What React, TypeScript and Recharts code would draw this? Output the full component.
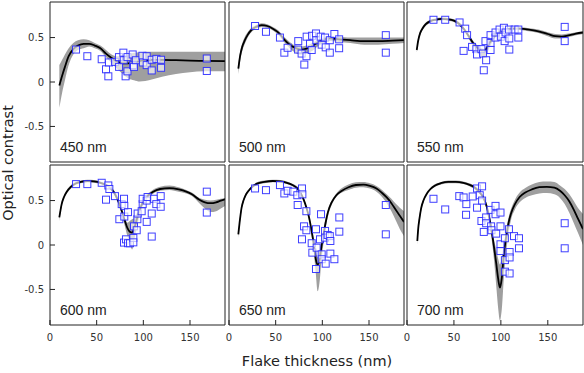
import React from "react";
import { ComposedChart, Area, Line, Scatter, XAxis, YAxis } from "recharts";

const xTicks = [0, 50, 100, 150];
const yTicks = [-0.5, 0, 0.5];
const xDomain = [0, 187.5];
const yDomain = [-0.9, 0.9];

// theory curve: [thickness, fit, lower, upper]
const curve450 = [
  [10, -0.04, -0.29, 0.19], [13, 0.07, -0.12, 0.25], [16, 0.17, 0.02, 0.31], [20, 0.29, 0.19, 0.38],
  [25, 0.37, 0.31, 0.44], [30, 0.41, 0.36, 0.47], [36, 0.43, 0.38, 0.48], [42, 0.43, 0.4, 0.47],
  [48, 0.41, 0.38, 0.44], [54, 0.38, 0.35, 0.41], [60, 0.32, 0.28, 0.36], [66, 0.27, 0.21, 0.31],
  [72, 0.23, 0.15, 0.29], [78, 0.21, 0.09, 0.29], [84, 0.21, 0.04, 0.31], [90, 0.22, 0.02, 0.33],
  [96, 0.235, 0.005, 0.335], [102, 0.245, 0.01, 0.34], [110, 0.25, 0.03, 0.34], [120, 0.25, 0.06, 0.34],
  [135, 0.245, 0.09, 0.34], [150, 0.24, 0.11, 0.34], [165, 0.237, 0.12, 0.34], [187.5, 0.235, 0.12, 0.34],
];
const curve500 = [
  [10, 0.15, 0.09, 0.2], [12, 0.3, 0.24, 0.35], [14, 0.39, 0.34, 0.43], [17, 0.47, 0.43, 0.51],
  [20, 0.53, 0.5, 0.56], [24, 0.585, 0.56, 0.61], [29, 0.62, 0.6, 0.64], [35, 0.64, 0.62, 0.66],
  [41, 0.63, 0.61, 0.65], [47, 0.6, 0.58, 0.62], [53, 0.555, 0.53, 0.58], [59, 0.48, 0.45, 0.51],
  [65, 0.42, 0.38, 0.45], [71, 0.385, 0.33, 0.41], [77, 0.365, 0.31, 0.4], [83, 0.375, 0.32, 0.41],
  [89, 0.405, 0.35, 0.44], [95, 0.445, 0.4, 0.47], [101, 0.475, 0.44, 0.5], [108, 0.49, 0.46, 0.51],
  [118, 0.48, 0.45, 0.51], [130, 0.47, 0.44, 0.5], [145, 0.46, 0.42, 0.5], [160, 0.46, 0.42, 0.5],
  [175, 0.465, 0.43, 0.5], [187.5, 0.47, 0.44, 0.5],
];
const curve550 = [
  [10.4, 0.36, 0.33, 0.38], [12, 0.47, 0.45, 0.49], [14, 0.55, 0.53, 0.57], [17, 0.61, 0.59, 0.63],
  [20, 0.65, 0.63, 0.67], [25, 0.685, 0.67, 0.7], [30, 0.7, 0.685, 0.715], [37, 0.71, 0.695, 0.725],
  [44, 0.705, 0.69, 0.72], [50, 0.69, 0.675, 0.705], [56, 0.65, 0.63, 0.67], [61, 0.59, 0.57, 0.61],
  [65, 0.53, 0.5, 0.55], [70, 0.445, 0.41, 0.47], [75, 0.385, 0.33, 0.41], [79, 0.35, 0.29, 0.38],
  [82, 0.34, 0.27, 0.37], [85, 0.38, 0.31, 0.41], [88, 0.44, 0.39, 0.46], [92, 0.5, 0.47, 0.52],
  [97, 0.55, 0.53, 0.57], [104, 0.585, 0.57, 0.6], [112, 0.6, 0.585, 0.615], [120, 0.6, 0.585, 0.615],
  [130, 0.59, 0.57, 0.605], [140, 0.57, 0.55, 0.59], [150, 0.54, 0.515, 0.56], [158, 0.515, 0.49, 0.54],
  [165, 0.51, 0.49, 0.535], [172, 0.525, 0.505, 0.545], [180, 0.545, 0.525, 0.56], [187.5, 0.557, 0.54, 0.57],
];
const curve600 = [
  [10, 0.31, 0.27, 0.34], [12.5, 0.46, 0.43, 0.48], [15, 0.54, 0.52, 0.56], [18, 0.6, 0.58, 0.62],
  [22, 0.65, 0.63, 0.67], [27, 0.69, 0.675, 0.705], [33, 0.71, 0.695, 0.725], [40, 0.72, 0.705, 0.735],
  [47, 0.715, 0.7, 0.73], [54, 0.7, 0.685, 0.715], [60, 0.675, 0.66, 0.69], [65, 0.64, 0.62, 0.66],
  [70, 0.565, 0.54, 0.59], [74, 0.47, 0.44, 0.5], [77, 0.38, 0.34, 0.41], [80, 0.28, 0.22, 0.31],
  [83, 0.19, 0.1, 0.25], [85.5, 0.15, 0.02, 0.27], [88, 0.14, -0.05, 0.29], [90, 0.18, 0.04, 0.3],
  [92, 0.25, 0.15, 0.33], [95, 0.36, 0.29, 0.41], [99, 0.47, 0.43, 0.5], [104, 0.545, 0.52, 0.57],
  [110, 0.595, 0.575, 0.62], [118, 0.63, 0.61, 0.655], [128, 0.64, 0.62, 0.67], [138, 0.625, 0.6, 0.65],
  [146, 0.6, 0.58, 0.62], [152, 0.57, 0.55, 0.59], [160, 0.51, 0.47, 0.53], [166, 0.48, 0.41, 0.51],
  [172, 0.47, 0.37, 0.5], [178, 0.48, 0.38, 0.51], [183, 0.5, 0.41, 0.52], [187.5, 0.515, 0.44, 0.53],
];
const curve650 = [
  [10, 0.12, 0.08, 0.15], [11.8, 0.29, 0.26, 0.32], [13.5, 0.42, 0.39, 0.45], [15.5, 0.5, 0.48, 0.52],
  [18, 0.565, 0.545, 0.585], [21, 0.61, 0.595, 0.625], [25, 0.655, 0.64, 0.67], [30, 0.69, 0.675, 0.705],
  [38, 0.71, 0.695, 0.725], [47, 0.72, 0.705, 0.735], [55, 0.715, 0.7, 0.73], [62, 0.7, 0.685, 0.715],
  [68, 0.675, 0.66, 0.69], [73, 0.64, 0.62, 0.66], [77, 0.58, 0.56, 0.6], [80, 0.51, 0.49, 0.53],
  [83, 0.42, 0.39, 0.44], [86, 0.3, 0.26, 0.33], [88.5, 0.16, 0.1, 0.2], [91, 0.0, -0.1, 0.06],
  [93, -0.16, -0.32, -0.06], [95, -0.22, -0.52, -0.14], [97, -0.16, -0.42, -0.06], [99, -0.02, -0.18, 0.06],
  [101, 0.1, 0.0, 0.16], [103.5, 0.25, 0.18, 0.3], [106, 0.37, 0.32, 0.4], [110, 0.48, 0.45, 0.5],
  [115, 0.56, 0.54, 0.58], [121, 0.61, 0.59, 0.64], [128, 0.65, 0.62, 0.68], [136, 0.675, 0.645, 0.705],
  [144, 0.68, 0.65, 0.71], [151, 0.665, 0.635, 0.695], [158, 0.635, 0.6, 0.665], [164, 0.585, 0.54, 0.62],
  [169, 0.535, 0.47, 0.57], [174, 0.47, 0.38, 0.52], [179, 0.39, 0.27, 0.46], [183, 0.33, 0.18, 0.42],
  [187.5, 0.26, 0.1, 0.38],
];
const curve700 = [
  [11, 0.045, 0.0, 0.08], [12, 0.19, 0.14, 0.23], [13.2, 0.29, 0.25, 0.33], [15, 0.41, 0.38, 0.44],
  [17.5, 0.5, 0.48, 0.52], [21, 0.575, 0.555, 0.595], [25, 0.63, 0.615, 0.645], [30, 0.67, 0.655, 0.685],
  [36, 0.695, 0.68, 0.71], [44, 0.71, 0.695, 0.725], [52, 0.71, 0.695, 0.725], [60, 0.7, 0.685, 0.715],
  [66, 0.68, 0.665, 0.695], [71, 0.655, 0.635, 0.675], [75, 0.62, 0.6, 0.64], [79, 0.57, 0.55, 0.59],
  [82, 0.52, 0.49, 0.54], [85, 0.43, 0.39, 0.46], [88, 0.29, 0.22, 0.33], [90.5, 0.14, 0.04, 0.2],
  [92.5, -0.01, -0.15, 0.07], [95, -0.2, -0.45, -0.05], [97, -0.37, -0.7, -0.15], [99, -0.48, -0.85, -0.22],
  [101, -0.37, -0.72, -0.14], [103, -0.12, -0.4, 0.0], [105.5, 0.08, -0.1, 0.16], [108, 0.24, 0.12, 0.3],
  [111, 0.36, 0.29, 0.41], [115, 0.46, 0.4, 0.51], [120, 0.54, 0.48, 0.59], [126, 0.59, 0.53, 0.64],
  [133, 0.625, 0.56, 0.68], [141, 0.65, 0.58, 0.71], [149, 0.655, 0.585, 0.715], [157, 0.645, 0.57, 0.71],
  [163, 0.61, 0.53, 0.67], [168, 0.56, 0.46, 0.63], [173, 0.49, 0.36, 0.57], [178, 0.39, 0.24, 0.49],
  [182, 0.3, 0.14, 0.42], [187.5, 0.18, 0.0, 0.35],
];

// measured flakes: [thickness, contrast]
const points450 = [
  [27.9, 0.365], [40, 0.29], [55.4, 0.256], [60, 0.143], [62.5, 0.064], [63.2, 0.22], [69.6, 0.226],
  [73.9, 0.28], [74, 0.17], [78.6, 0.33], [79, 0.245], [81, 0.064], [83, 0.12], [83, 0.28], [88.6, 0.31],
  [89, 0.19], [90, 0.17], [92, 0.245], [99, 0.295], [99.6, 0.22], [103.6, 0.29], [103.6, 0.19],
  [109, 0.13], [109, 0.25], [114, 0.26], [119, 0.25], [119, 0.16], [168, 0.264], [168, 0.124],
];
const points500 = [
  [27.9, 0.63], [39.6, 0.565], [54.6, 0.5], [59.3, 0.33], [62.8, 0.385], [74.2, 0.46], [74, 0.365],
  [77.8, 0.32], [80.7, 0.196], [83.2, 0.51], [83, 0.29], [86.8, 0.43], [88.6, 0.36], [89, 0.52],
  [93.2, 0.546], [93.5, 0.47], [98.2, 0.51], [99.3, 0.42], [102.9, 0.5], [103.6, 0.39], [108, 0.47],
  [108, 0.33], [112.9, 0.54], [118, 0.48], [118, 0.38], [168, 0.527], [168, 0.33],
];
const points550 = [
  [28.2, 0.7], [40.7, 0.7], [56, 0.67], [62, 0.6], [64, 0.527], [60.3, 0.35], [69.3, 0.395], [73.9, 0.37],
  [74.6, 0.31], [79.3, 0.37], [81, 0.32], [81.8, 0.132], [84.3, 0.245], [83.6, 0.46], [89, 0.36],
  [89, 0.44], [89, 0.527], [94.3, 0.5], [94.3, 0.557], [98.6, 0.59], [100, 0.51], [103.2, 0.61],
  [104, 0.46], [105, 0.557], [108.6, 0.59], [109, 0.365], [109, 0.49], [114.7, 0.59], [118.6, 0.59],
  [118.6, 0.5], [168, 0.62], [168, 0.46],
];
const points600 = [
  [27.9, 0.685], [40, 0.685], [55.4, 0.7], [60, 0.51], [62.5, 0.67], [63.6, 0.63], [69.6, 0.55],
  [74.3, 0.29], [76.8, 0.46], [79.3, 0.52], [79.6, 0.44], [79.6, 0.32], [79.3, 0.027], [81.4, 0.064],
  [83.6, 0.37], [83.6, 0.02], [85.7, 0.02], [89.3, 0.08], [89.3, 0.03], [90, 0.21], [92.9, 0.166],
  [93.6, 0.29], [93.9, 0.354], [98.2, 0.38], [99.3, 0.46], [99.3, 0.52], [103.6, 0.26], [103.6, 0.5],
  [104.6, 0.54], [109, 0.354], [109, 0.095], [111.4, 0.52], [113.9, 0.46], [118.6, 0.55], [118.6, 0.43],
  [168, 0.6], [168, 0.365],
];
const points650 = [
  [27.9, 0.636], [39.6, 0.617], [54.6, 0.674], [59.3, 0.58], [62.9, 0.61], [68.9, 0.6], [73.2, 0.56],
  [73.6, 0.45], [78.2, 0.636], [78.6, 0.57], [82.9, 0.38], [80.4, 0.21], [82.9, 0.166], [78.2, 0.064],
  [88.6, 0.02], [89.3, -0.086], [93.2, 0.177], [93.9, -0.03], [93.2, -0.27], [97.5, 0.064], [98.6, 0.346],
  [99.3, -0.105], [99.3, -0.16], [102.9, 0.158], [102.9, 0.083], [103.6, -0.21], [105.7, 0.113],
  [108, 0.1], [108.6, 0.045], [108.6, -0.097], [112.9, -0.16], [118.2, 0.31], [118.2, 0.15],
  [168, 0.45], [168, 0.12],
];
const points700 = [
  [28.2, 0.52], [40.7, 0.4], [55.7, 0.55], [60.3, 0.535], [63.2, 0.46], [62.9, 0.34], [70, 0.546],
  [74.6, 0.42], [74.6, 0.636], [77.5, 0.56], [80, 0.66], [80, 0.5], [79.3, 0.27], [81.8, 0.147],
  [84.3, 0.31], [84.3, 0.245], [89, 0.395], [89.6, 0.21], [90, 0.166], [94.3, 0.44], [94.3, 0.346],
  [95, 0.128], [99.6, 0.365], [99.6, 0.21], [99.6, 0.008], [99.6, -0.068], [104.3, 0.076], [104.3, -0.17],
  [104.3, -0.3], [108.6, 0.177], [109.3, -0.079], [109.3, -0.14], [109.3, -0.32], [114, 0.1],
  [119.3, 0.076], [119.3, -0.037], [168, 0.245], [168, -0.037],
];

const INK = "#222";
const PLOT_H = 160;

const Square = (p: any) => (
  <rect
    x={p.cx - 3.5}
    y={p.cy - 3.5}
    width={7}
    height={7}
    fill="#fff"
    fillOpacity={0.65}
    stroke="#2a2aff"
    strokeOpacity={0.9}
    strokeWidth={1}
  />
);

interface PanelProps {
  left: number;
  top: number;
  width: number;
  curve: number[][];
  points: number[][];
  showX: boolean;
  showY: boolean;
}

function Panel({ left, top, width, curve, points, showX, showY }: PanelProps) {
  const lineData = curve.map(([x, fit, lo, hi]) => ({ x, fit, band: [lo, hi] }));
  const dots = points.map(([x, y]) => ({ x, y }));
  const tickStyle = { fontSize: 10, fill: "#333" };
  const common = {
    type: "number" as const,
    allowDataOverflow: true,
    tickSize: -5,
    axisLine: { stroke: INK },
    tickLine: { stroke: INK },
  };

  return (
    <div style={{ position: "absolute", left: left - 50, top: top - 5 }}>
      <ComposedChart
        width={width + 55}
        height={PLOT_H + 40}
        margin={{ top: 4, right: 4, bottom: 34, left: 49 }}
      >
        <XAxis
          {...common}
          xAxisId="b"
          dataKey="x"
          domain={xDomain}
          ticks={xTicks}
          height={1}
          tickMargin={14}
          tick={showX ? tickStyle : false}
        />
        <XAxis {...common} xAxisId="t" orientation="top" domain={xDomain} ticks={xTicks} height={1} tick={false} />
        <YAxis
          {...common}
          yAxisId="l"
          domain={yDomain}
          ticks={yTicks}
          width={1}
          tickMargin={11}
          tick={showY ? tickStyle : false}
        />
        <YAxis {...common} yAxisId="r" orientation="right" domain={yDomain} ticks={yTicks} width={1} tick={false} />
        <Area
          xAxisId="b"
          yAxisId="l"
          data={lineData}
          dataKey="band"
          type="monotone"
          stroke="none"
          fill="#9f9f9f"
          fillOpacity={1}
          isAnimationActive={false}
        />
        <Line
          xAxisId="b"
          yAxisId="l"
          data={lineData}
          dataKey="fit"
          type="monotone"
          stroke="#000"
          strokeWidth={1.8}
          dot={false}
          isAnimationActive={false}
        />
        <Scatter
          xAxisId="b"
          yAxisId="l"
          data={dots}
          dataKey="y"
          shape={Square}
          isAnimationActive={false}
        />
      </ComposedChart>
    </div>
  );
}

const panels = [
  { label: "450 nm", left: 50, top: 2, width: 175, curve: curve450, points: points450 },
  { label: "500 nm", left: 229, top: 2, width: 175, curve: curve500, points: points500 },
  { label: "550 nm", left: 407, top: 2, width: 176, curve: curve550, points: points550 },
  { label: "600 nm", left: 50, top: 165, width: 175, curve: curve600, points: points600 },
  { label: "650 nm", left: 229, top: 165, width: 175, curve: curve650, points: points650 },
  { label: "700 nm", left: 407, top: 165, width: 176, curve: curve700, points: points700 },
];

export default function App() {
  return (
    <div
      style={{
        position: "absolute",
        left: 0,
        top: 0,
        width: 584,
        height: 373,
        background: "#fff",
        fontFamily: "'DejaVu Sans', sans-serif",
      }}
    >
      {panels.map((p, i) => (
        <Panel
          key={p.label}
          left={p.left}
          top={p.top}
          width={p.width}
          curve={p.curve}
          points={p.points}
          showX={i >= 3}
          showY={i % 3 === 0}
        />
      ))}
      <svg
        width={584}
        height={373}
        style={{ position: "absolute", left: 0, top: 0, pointerEvents: "none" }}
      >
        <text
          transform="translate(13,163) rotate(-90)"
          textAnchor="middle"
          fontSize={14.5}
          fill={INK}
          fontFamily="'DejaVu Sans', sans-serif"
        >
          Optical contrast
        </text>
        <text x={317} y={366} textAnchor="middle" fontSize={14.5} fill={INK} fontFamily="'DejaVu Sans', sans-serif">
          Flake thickness (nm)
        </text>
        {panels.map((p) => (
          <text
            key={p.label}
            x={p.left + 10}
            y={p.top + PLOT_H - 10}
            fontSize={14}
            fill={INK}
            fontFamily="'Liberation Sans', Arial, sans-serif"
          >
            {p.label}
          </text>
        ))}
      </svg>
    </div>
  );
}
